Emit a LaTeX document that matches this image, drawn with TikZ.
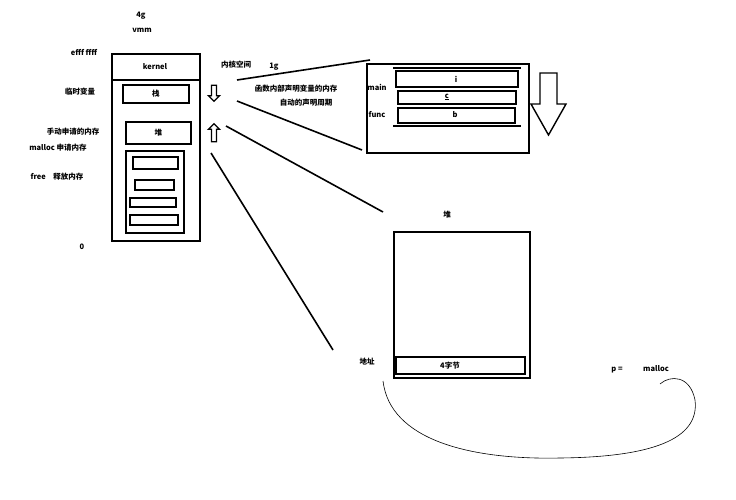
\documentclass[tikz,border=0pt]{standalone}
\usepackage{fontspec}
\setmainfont{Liberation Sans}
\newfontfamily\cjk{Noto Sans CJK SC}
\usetikzlibrary{shapes.arrows}
\begin{document}
\begin{tikzpicture}[x=1pt,y=-1pt,
 box/.style={draw,line width=1.6pt},
 thin/.style={draw,line width=1.2pt},
 lbl/.style={font=\cjk\fontsize{7.5}{8}\selectfont\bfseries,inner sep=0pt},
 ln/.style={line width=1.6pt},
 harr/.style={draw,line width=1.3pt,single arrow,single arrow head extend=2pt,minimum height=#1,inner sep=1pt,shape border rotate=270}]
\useasboundingbox (0,0) rectangle (736,500);
\node[box,minimum width=88pt,minimum height=187pt,anchor=north west,inner sep=0] (mem) at (111,53) {};
\draw[ln] (111,80) -- (199,80);
\node[lbl] (kern) at (155,67) {kernel};
\node[box,anchor=north west,minimum width=66pt,minimum height=18pt,inner sep=0] (stk) at (122,84) {};
\node[lbl] at (stk) {栈};
\node[box,anchor=north west,minimum width=65pt,minimum height=22pt,inner sep=0] (hp) at (125,121) {};
\node[lbl] at (hp) {堆};
\node[box,anchor=north west,minimum width=58pt,minimum height=82pt,inner sep=0] (blk) at (125,150) {};
\draw[thin] (133,157) rectangle (178,169) (135,180) rectangle (174,190) (130,198) rectangle (176,207) (130,215) rectangle (178,225);
\node[harr=16pt,minimum width=11pt] (da) at (214,92) {};
\node[harr=18pt,minimum width=11pt,shape border rotate=90] (ua) at (214,134) {};
\node[lbl] at (141,16) {4g};
\node[lbl] at (142,30) {vmm};
\node[lbl] at (84,53) {efff ffff};
\node[lbl] at (80,92) {临时变量};
\node[lbl] at (73,132) {手动申请的内存};
\node[lbl] at (58,148) {malloc 申请内存};
\node[lbl] at (57,177) {free\quad 释放内存};
\node[lbl] at (82,247) {0};
\node[lbl] at (236,65) {内核空间};
\node[lbl] at (274,67) {1g};
\node[lbl] at (296,89) {函数内部声明变量的内存};
\node[lbl] at (306,103) {自动的声明周期};
% right stack frame box
\node[box,anchor=north west,minimum width=162pt,minimum height=89pt,inner sep=0] (fr) at (366,63) {};
\draw[box] (396,71) rectangle (518,87);
\draw[line width=2.4pt] (398,91) rectangle (516,104);
\draw[line width=2.4pt] (398,108) rectangle (515,123);
\draw[thin] (393,68) -- (521,68) (393,126) -- (521,126);
\node[lbl] at (456,79) {i};
\node[lbl] at (447,97) {\underline{c}};
\node[lbl] at (455,115) {b};
\node[lbl] at (377,87) {main};
\node[lbl] at (377,115) {func};
\draw[line width=1.4pt,line join=miter] (540,73) -- (557,73) -- (557,104) -- (566,104) -- (548.5,135) -- (531,104) -- (540,104) -- cycle;
% heap box
\node[box,anchor=north west,minimum width=136pt,minimum height=146pt,inner sep=0] (hb) at (393,231) {};
\draw[box] (396,357) rectangle (525,374);
\node[lbl] at (450,366) {4字节};
\node[lbl] at (447,215) {堆};
\node[lbl] at (367,362) {地址};
\node[lbl] at (617,370) {p =};
\node[lbl] (mal) at (656,369) {malloc};
% lines
\coordinate (a1) at (237,80); \coordinate (b1) at (370,60);
\coordinate (a2) at (237,101); \coordinate (b2) at (362,150);
\coordinate (a3) at (226,126); \coordinate (b3) at (383,212);
\coordinate (a4) at (211,153); \coordinate (b4) at (333,350);
\draw[ln] (a1) -- (b1) (a2) -- (b2) (a3) -- (b3) (a4) -- (b4);
\draw[line width=0.6pt] (383,381) .. controls (390,440) and (470,460) .. (560,458)
 .. controls (650,457) and (700,440) .. (695,400) .. controls (690,375) and (670,375) .. (660,384);
\end{tikzpicture}
\end{document}
